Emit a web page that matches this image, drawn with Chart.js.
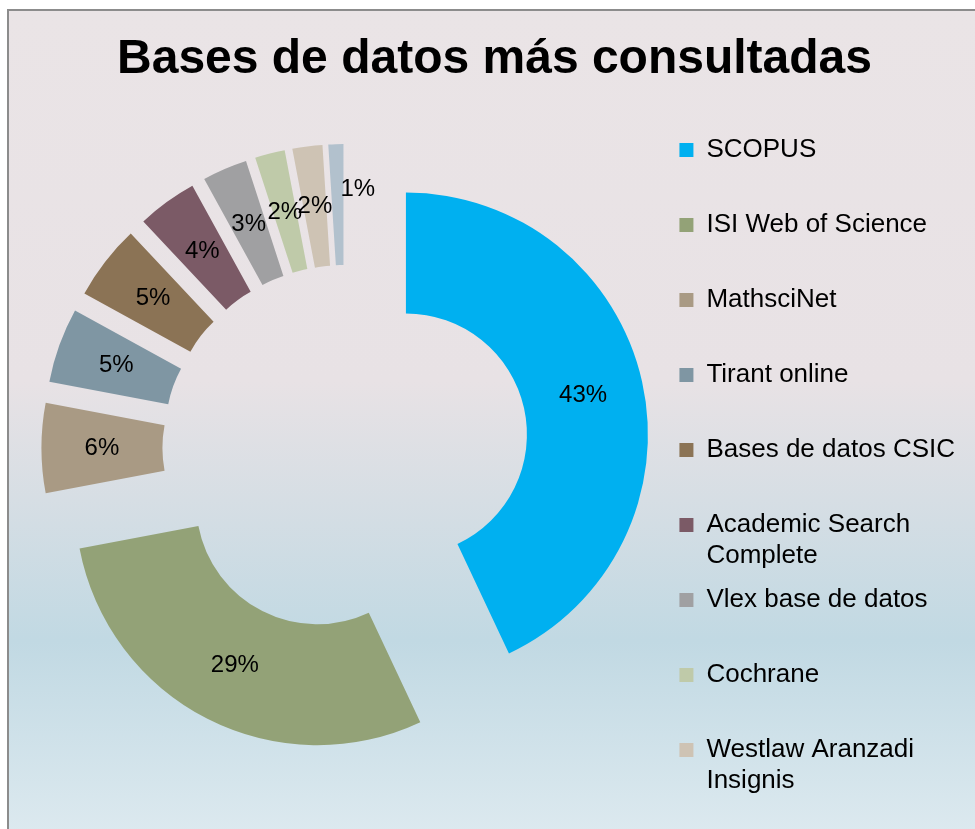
<!DOCTYPE html>
<html lang="es">
<head>
<meta charset="utf-8">
<title>Bases de datos más consultadas</title>
<script src="https://cdn.jsdelivr.net/npm/chart.js@4.4.1/dist/chart.umd.min.js"></script>
<style>
    html, body { margin: 0; padding: 0; background: #fff; overflow: hidden; }
    #frame {
        position: absolute; left: 7px; top: 9px; width: 1000px; height: 840px;
        border: 2px solid #8c8c8c;
        background: linear-gradient(to bottom, #eae4e6 0px, #e8e2e5 370px, #c1d9e3 630px, #dce9ef 820px);
    }
    #wrap { position: absolute; left: 0; top: 0; width: 975px; height: 829px; }
</style>
</head>
<body>
<div id="frame"></div>
<div id="wrap"><canvas id="chart"></canvas></div>
<script>
const categories = [
    'SCOPUS', 'ISI Web of Science', 'MathsciNet', 'Tirant online', 'Bases de datos CSIC',
    'Academic Search Complete', 'Vlex base de datos', 'Cochrane', 'Westlaw Aranzadi Insignis', 'Otras'
];
const shares = [43, 29, 6, 5, 5, 4, 3, 2, 2, 1];
const colors = [
    '#00b0f0', '#93a277', '#a99a84', '#7f96a3', '#8b7355',
    '#7b5a66', '#a0a0a2', '#bfcaa9', '#cec3b4', '#b2c1cd'
];

const total = shares.reduce((a, b) => a + b, 0);
const FONT = "'Liberation Sans', Arial, sans-serif";

Chart.defaults.font.family = FONT;
Chart.defaults.color = '#000';

// legend entries all take two lines, like the Excel legend rows
function twoLines(text) {
    if (text.length <= 20) return [text, ''];
    const cut = text.lastIndexOf(' ', 20);
    return [text.slice(0, cut), text.slice(cut + 1)];
}

// exploded doughnut as in Excel: every piece slides outward along its middle angle,
// keeping the same ring radii (the built-in offset also widens and narrows small arcs)
const explode = {
    id: 'explode',
    afterDatasetsUpdate(chart, args, opts) {
        chart.getDatasetMeta(0).data.forEach(arc => {
            const mid = (arc.startAngle + arc.endAngle) / 2;
            arc.x += Math.cos(mid) * opts.distance;
            arc.y += Math.sin(mid) * opts.distance;
        });
    }
};

// Excel moved the last label aside so it does not sit on the 2% next to it
const labelNudge = { 9: [20, -15] };

const sliceLabels = {
    id: 'sliceLabels',
    afterDatasetsDraw(chart) {
        const ctx = chart.ctx;
        ctx.save();
        ctx.font = '24px ' + FONT;
        ctx.fillStyle = '#000';
        ctx.textAlign = 'center';
        ctx.textBaseline = 'middle';
        chart.getDatasetMeta(0).data.forEach((arc, i) => {
            const { x, y } = arc.getCenterPoint();
            const [dx, dy] = labelNudge[i] || [0, 0];
            ctx.fillText(Math.round(shares[i] / total * 100) + '%', x + dx, y + dy);
        });
        ctx.restore();
    }
};

new Chart(document.getElementById('chart'), {
    type: 'doughnut',
    data: {
        labels: categories,
        datasets: [{
            data: shares,
            backgroundColor: colors,
            borderWidth: 0
        }]
    },
    options: {
        responsive: true,
        maintainAspectRatio: false,
        animation: false,
        events: [],
        radius: 242,
        cutout: '50%',
        layout: { padding: { left: 24, right: 10, top: 0, bottom: 17 } },
        plugins: {
            explode: { distance: 62 },
            title: {
                display: true,
                text: 'Bases de datos más consultadas',
                color: '#000',
                font: { size: 48, weight: 'bold', lineHeight: 1 },
                padding: { top: 36, bottom: 0 }
            },
            legend: {
                position: 'right',
                align: 'end',
                labels: {
                    boxWidth: 14,
                    boxHeight: 14,
                    padding: 12.6,
                    color: '#000',
                    font: { size: 26 },
                    generateLabels(chart) {
                        const items = Chart.overrides.doughnut.plugins.legend.labels.generateLabels(chart);
                        return items.map(item => ({ ...item, text: twoLines(item.text) }));
                    },
                    // the tenth entry does not fit in the original legend
                    filter: item => item.index < 9
                }
            },
            tooltip: { enabled: false }
        }
    },
    plugins: [explode, sliceLabels]
});
</script>
</body>
</html>
